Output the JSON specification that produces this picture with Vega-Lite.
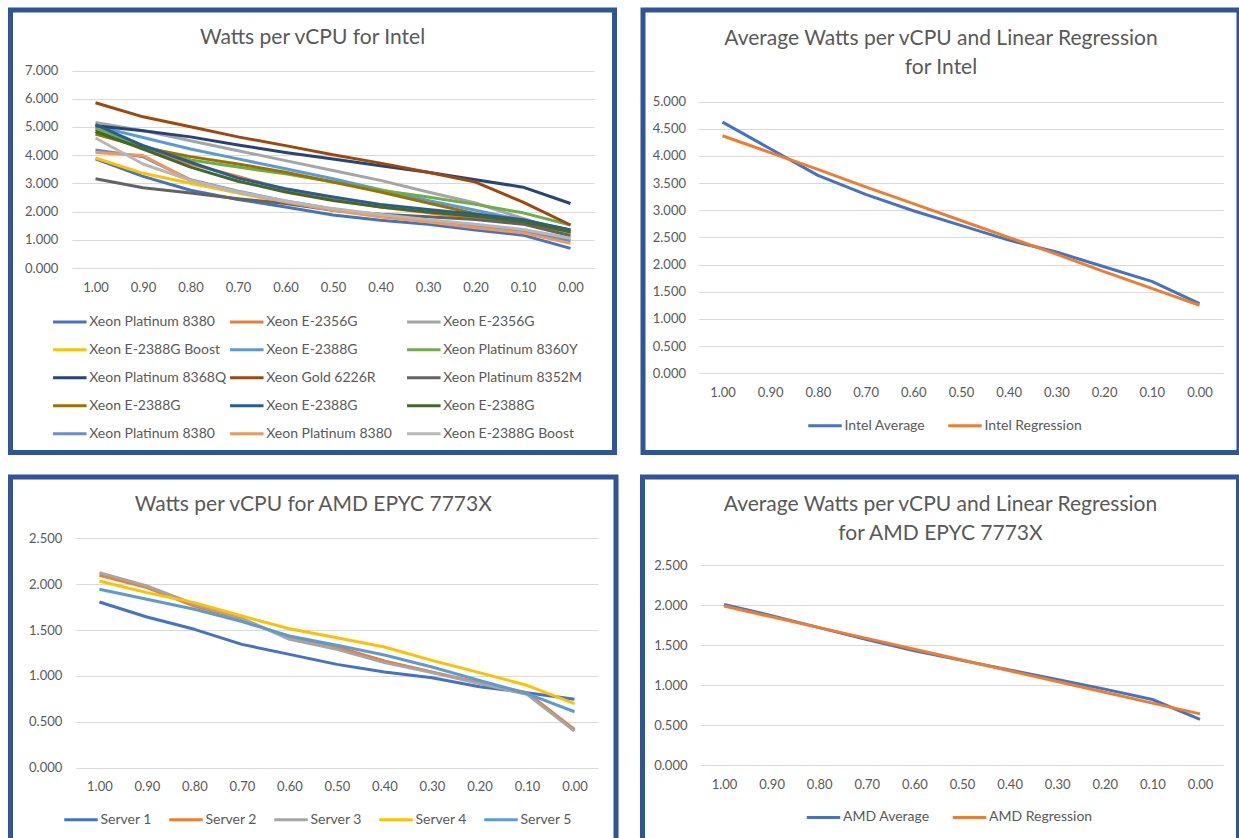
{
  "$schema": "https://vega.github.io/schema/vega-lite/v6.json",
  "background": "white",
  "padding": {"left": 7.5, "top": 7, "right": 0, "bottom": 0},
  "datasets": {
    "intel": [
      {"load": 1.0, "Xeon Platinum 8380": 3.87, "Xeon E-2356G": 4.96, "Xeon E-2356G #2": 5.16, "Xeon E-2388G Boost": 3.90, "Xeon E-2388G": 5.04, "Xeon Platinum 8360Y": 4.92, "Xeon Platinum 8368Q": 5.04, "Xeon Gold 6226R": 5.86, "Xeon Platinum 8352M": 3.17, "Xeon E-2388G #2": 4.75, "Xeon E-2388G #3": 5.08, "Xeon E-2388G #4": 4.84, "Xeon Platinum 8380 #2": 4.19, "Xeon Platinum 8380 #3": 4.10, "Xeon E-2388G Boost #2": 4.61},
      {"load": 0.9, "Xeon Platinum 8380": 3.25, "Xeon E-2356G": 4.30, "Xeon E-2356G #2": 4.87, "Xeon E-2388G Boost": 3.36, "Xeon E-2388G": 4.63, "Xeon Platinum 8360Y": 4.34, "Xeon Platinum 8368Q": 4.87, "Xeon Gold 6226R": 5.36, "Xeon Platinum 8352M": 2.85, "Xeon E-2388G #2": 4.28, "Xeon E-2388G #3": 4.34, "Xeon E-2388G #4": 4.22, "Xeon Platinum 8380 #2": 3.95, "Xeon Platinum 8380 #3": 3.99, "Xeon E-2388G Boost #2": 3.69},
      {"load": 0.8, "Xeon Platinum 8380": 2.76, "Xeon E-2356G": 3.69, "Xeon E-2356G #2": 4.51, "Xeon E-2388G Boost": 3.01, "Xeon E-2388G": 4.22, "Xeon Platinum 8360Y": 3.83, "Xeon Platinum 8368Q": 4.65, "Xeon Gold 6226R": 5.01, "Xeon Platinum 8352M": 2.66, "Xeon E-2388G #2": 3.95, "Xeon E-2388G #3": 3.75, "Xeon E-2388G #4": 3.58, "Xeon Platinum 8380 #2": 3.13, "Xeon Platinum 8380 #3": 3.11, "Xeon E-2388G Boost #2": 3.11},
      {"load": 0.7, "Xeon Platinum 8380": 2.43, "Xeon E-2356G": 3.25, "Xeon E-2356G #2": 4.16, "Xeon E-2388G Boost": 2.66, "Xeon E-2388G": 3.87, "Xeon Platinum 8360Y": 3.58, "Xeon Platinum 8368Q": 4.36, "Xeon Gold 6226R": 4.65, "Xeon Platinum 8352M": 2.46, "Xeon E-2388G #2": 3.69, "Xeon E-2388G #3": 3.19, "Xeon E-2388G #4": 3.08, "Xeon Platinum 8380 #2": 2.73, "Xeon Platinum 8380 #3": 2.70, "Xeon E-2388G Boost #2": 2.70},
      {"load": 0.6, "Xeon Platinum 8380": 2.17, "Xeon E-2356G": 2.78, "Xeon E-2356G #2": 3.81, "Xeon E-2388G Boost": 2.34, "Xeon E-2388G": 3.52, "Xeon Platinum 8360Y": 3.34, "Xeon Platinum 8368Q": 4.10, "Xeon Gold 6226R": 4.34, "Xeon Platinum 8352M": 2.29, "Xeon E-2388G #2": 3.40, "Xeon E-2388G #3": 2.81, "Xeon E-2388G #4": 2.70, "Xeon Platinum 8380 #2": 2.38, "Xeon Platinum 8380 #3": 2.34, "Xeon E-2388G Boost #2": 2.38},
      {"load": 0.5, "Xeon Platinum 8380": 1.88, "Xeon E-2356G": 2.43, "Xeon E-2356G #2": 3.46, "Xeon E-2388G Boost": 2.05, "Xeon E-2388G": 3.17, "Xeon Platinum 8360Y": 3.05, "Xeon Platinum 8368Q": 3.87, "Xeon Gold 6226R": 4.02, "Xeon Platinum 8352M": 2.05, "Xeon E-2388G #2": 3.05, "Xeon E-2388G #3": 2.52, "Xeon E-2388G #4": 2.40, "Xeon Platinum 8380 #2": 2.10, "Xeon Platinum 8380 #3": 2.05, "Xeon E-2388G Boost #2": 2.11},
      {"load": 0.4, "Xeon Platinum 8380": 1.70, "Xeon E-2356G": 2.17, "Xeon E-2356G #2": 3.11, "Xeon E-2388G Boost": 1.82, "Xeon E-2388G": 2.78, "Xeon Platinum 8360Y": 2.76, "Xeon Platinum 8368Q": 3.63, "Xeon Gold 6226R": 3.72, "Xeon Platinum 8352M": 1.91, "Xeon E-2388G #2": 2.70, "Xeon E-2388G #3": 2.26, "Xeon E-2388G #4": 2.17, "Xeon Platinum 8380 #2": 1.86, "Xeon Platinum 8380 #3": 1.82, "Xeon E-2388G Boost #2": 1.90},
      {"load": 0.3, "Xeon Platinum 8380": 1.56, "Xeon E-2356G": 1.96, "Xeon E-2356G #2": 2.70, "Xeon E-2388G Boost": 1.64, "Xeon E-2388G": 2.40, "Xeon Platinum 8360Y": 2.52, "Xeon Platinum 8368Q": 3.40, "Xeon Gold 6226R": 3.40, "Xeon Platinum 8352M": 1.82, "Xeon E-2388G #2": 2.31, "Xeon E-2388G #3": 2.08, "Xeon E-2388G #4": 1.99, "Xeon Platinum 8380 #2": 1.68, "Xeon Platinum 8380 #3": 1.64, "Xeon E-2388G Boost #2": 1.72},
      {"load": 0.2, "Xeon Platinum 8380": 1.35, "Xeon E-2356G": 1.76, "Xeon E-2356G #2": 2.31, "Xeon E-2388G Boost": 1.49, "Xeon E-2388G": 2.05, "Xeon Platinum 8360Y": 2.26, "Xeon Platinum 8368Q": 3.13, "Xeon Gold 6226R": 3.05, "Xeon Platinum 8352M": 1.72, "Xeon E-2388G #2": 1.93, "Xeon E-2388G #3": 1.91, "Xeon E-2388G #4": 1.84, "Xeon Platinum 8380 #2": 1.49, "Xeon Platinum 8380 #3": 1.43, "Xeon E-2388G Boost #2": 1.56},
      {"load": 0.1, "Xeon Platinum 8380": 1.17, "Xeon E-2356G": 1.58, "Xeon E-2356G #2": 1.76, "Xeon E-2388G Boost": 1.35, "Xeon E-2388G": 1.70, "Xeon Platinum 8360Y": 1.96, "Xeon Platinum 8368Q": 2.87, "Xeon Gold 6226R": 2.34, "Xeon Platinum 8352M": 1.56, "Xeon E-2388G #2": 1.64, "Xeon E-2388G #3": 1.72, "Xeon E-2388G #4": 1.64, "Xeon Platinum 8380 #2": 1.31, "Xeon Platinum 8380 #3": 1.25, "Xeon E-2388G Boost #2": 1.37},
      {"load": 0.0, "Xeon Platinum 8380": 0.70, "Xeon E-2356G": 1.23, "Xeon E-2356G #2": 1.23, "Xeon E-2388G Boost": 1.06, "Xeon E-2388G": 1.35, "Xeon Platinum 8360Y": 1.53, "Xeon Platinum 8368Q": 2.29, "Xeon Gold 6226R": 1.53, "Xeon Platinum 8352M": 1.15, "Xeon E-2388G #2": 1.29, "Xeon E-2388G #3": 1.35, "Xeon E-2388G #4": 1.29, "Xeon Platinum 8380 #2": 0.97, "Xeon Platinum 8380 #3": 0.88, "Xeon E-2388G Boost #2": 1.06}
    ],
    "intelAvg": [
      {"load": 1.0, "Intel Average": 4.62, "Intel Regression": 4.37},
      {"load": 0.9, "Intel Average": 4.13, "Intel Regression": 4.06},
      {"load": 0.8, "Intel Average": 3.64, "Intel Regression": 3.75},
      {"load": 0.7, "Intel Average": 3.29, "Intel Regression": 3.43},
      {"load": 0.6, "Intel Average": 2.99, "Intel Regression": 3.12},
      {"load": 0.5, "Intel Average": 2.72, "Intel Regression": 2.81},
      {"load": 0.4, "Intel Average": 2.45, "Intel Regression": 2.50},
      {"load": 0.3, "Intel Average": 2.23, "Intel Regression": 2.19},
      {"load": 0.2, "Intel Average": 1.96, "Intel Regression": 1.87},
      {"load": 0.1, "Intel Average": 1.69, "Intel Regression": 1.56},
      {"load": 0.0, "Intel Average": 1.28, "Intel Regression": 1.25}
    ],
    "amd": [
      {"load": 1.0, "Server 1": 1.806, "Server 2": 2.097, "Server 3": 2.126, "Server 4": 2.035, "Server 5": 1.944},
      {"load": 0.9, "Server 1": 1.642, "Server 2": 1.962, "Server 3": 1.980, "Server 4": 1.908, "Server 5": 1.835},
      {"load": 0.8, "Server 1": 1.508, "Server 2": 1.762, "Server 3": 1.781, "Server 4": 1.799, "Server 5": 1.726},
      {"load": 0.7, "Server 1": 1.344, "Server 2": 1.617, "Server 3": 1.628, "Server 4": 1.653, "Server 5": 1.592},
      {"load": 0.6, "Server 1": 1.235, "Server 2": 1.417, "Server 3": 1.399, "Server 4": 1.515, "Server 5": 1.435},
      {"load": 0.5, "Server 1": 1.126, "Server 2": 1.315, "Server 3": 1.290, "Server 4": 1.417, "Server 5": 1.334},
      {"load": 0.4, "Server 1": 1.043, "Server 2": 1.163, "Server 3": 1.145, "Server 4": 1.315, "Server 5": 1.228},
      {"load": 0.3, "Server 1": 0.981, "Server 2": 1.043, "Server 3": 1.036, "Server 4": 1.170, "Server 5": 1.097},
      {"load": 0.2, "Server 1": 0.883, "Server 2": 0.927, "Server 3": 0.916, "Server 4": 1.036, "Server 5": 0.952},
      {"load": 0.1, "Server 1": 0.818, "Server 2": 0.818, "Server 3": 0.799, "Server 4": 0.898, "Server 5": 0.807},
      {"load": 0.0, "Server 1": 0.745, "Server 2": 0.418, "Server 3": 0.400, "Server 4": 0.698, "Server 5": 0.610}
    ],
    "amdAvg": [
      {"load": 1.0, "AMD Average": 2.01, "AMD Regression": 1.99},
      {"load": 0.9, "AMD Average": 1.87, "AMD Regression": 1.855},
      {"load": 0.8, "AMD Average": 1.72, "AMD Regression": 1.72},
      {"load": 0.7, "AMD Average": 1.57, "AMD Regression": 1.585},
      {"load": 0.6, "AMD Average": 1.43, "AMD Regression": 1.45},
      {"load": 0.5, "AMD Average": 1.31, "AMD Regression": 1.315},
      {"load": 0.4, "AMD Average": 1.19, "AMD Regression": 1.18},
      {"load": 0.3, "AMD Average": 1.07, "AMD Regression": 1.045},
      {"load": 0.2, "AMD Average": 0.95, "AMD Regression": 0.91},
      {"load": 0.1, "AMD Average": 0.82, "AMD Regression": 0.775},
      {"load": 0.0, "AMD Average": 0.57, "AMD Regression": 0.64}
    ]
  },
  "spacing": 19,
  "resolve": {"scale": {"color": "independent"}, "legend": {"color": "independent"}},
  "vconcat": [
    {
      "spacing": 22.5,
      "resolve": {"scale": {"color": "independent"}, "legend": {"color": "independent"}},
      "hconcat": [
        {
          "width": 604,
          "height": 442.5,
          "title": {"text": "Watts per vCPU for Intel", "offset": -38},
          "data": {"name": "intel"},
          "transform": [
            {"fold": ["Xeon Platinum 8380", "Xeon E-2356G", "Xeon E-2356G #2", "Xeon E-2388G Boost", "Xeon E-2388G", "Xeon Platinum 8360Y", "Xeon Platinum 8368Q", "Xeon Gold 6226R", "Xeon Platinum 8352M", "Xeon E-2388G #2", "Xeon E-2388G #3", "Xeon E-2388G #4", "Xeon Platinum 8380 #2", "Xeon Platinum 8380 #3", "Xeon E-2388G Boost #2"], "as": ["series", "w"]}
          ],
          "mark": "line",
          "encoding": {
            "x": {"field": "load", "type": "quantitative", "title": null,
              "scale": {"domain": [1.05, -0.05], "range": [61.25, 583.75], "nice": false, "zero": false},
              "axis": {"values": [1, 0.9, 0.8, 0.7, 0.6, 0.5, 0.4, 0.3, 0.2, 0.1, 0], "format": ".2f", "offset": -171}},
            "y": {"field": "w", "type": "quantitative", "title": null,
              "scale": {"domain": [0, 7], "range": [258.2, 60.5], "nice": false},
              "axis": {"values": [0, 1, 2, 3, 4, 5, 6, 7], "format": ".3f", "offset": -47.3}},
            "color": {"field": "series", "type": "nominal",
              "scale": {
                "domain": ["Xeon Platinum 8380", "Xeon E-2356G", "Xeon E-2356G #2", "Xeon E-2388G Boost", "Xeon E-2388G", "Xeon Platinum 8360Y", "Xeon Platinum 8368Q", "Xeon Gold 6226R", "Xeon Platinum 8352M", "Xeon E-2388G #2", "Xeon E-2388G #3", "Xeon E-2388G #4", "Xeon Platinum 8380 #2", "Xeon Platinum 8380 #3", "Xeon E-2388G Boost #2"],
                "range": ["#4472C4", "#ED7D31", "#A5A5A5", "#FFC000", "#5B9BD5", "#70AD47", "#264478", "#9E480E", "#636363", "#997300", "#255E91", "#43682B", "#698ED0", "#F1975A", "#B7B7B7"]
              },
              "legend": {"orient": "none", "legendX": 40.8, "legendY": 293.2, "direction": "horizontal", "columns": 3, "gridAlign": "all", "columnPadding": -3, "rowPadding": 2, "labelExpr": "split(datum.label, ' #')[0]"}}
          }
        },
        {
          "width": 596,
          "height": 442.5,
          "title": {"text": ["Average Watts per vCPU and Linear Regression", "for Intel"], "offset": -68},
          "data": {"name": "intelAvg"},
          "transform": [{"fold": ["Intel Average", "Intel Regression"], "as": ["series", "w"]}],
          "mark": "line",
          "encoding": {
            "x": {"field": "load", "type": "quantitative", "title": null,
              "scale": {"domain": [1.05, -0.05], "range": [55.65, 580.35], "nice": false, "zero": false},
              "axis": {"values": [1, 0.9, 0.8, 0.7, 0.6, 0.5, 0.4, 0.3, 0.2, 0.1, 0], "format": ".2f", "offset": -66}},
            "y": {"field": "w", "type": "quantitative", "title": null,
              "scale": {"domain": [0, 5], "range": [363.2, 91.5], "nice": false},
              "axis": {"values": [0, 0.5, 1, 1.5, 2, 2.5, 3, 3.5, 4, 4.5, 5], "format": ".3f", "offset": -42.5}},
            "color": {"field": "series", "type": "nominal",
              "scale": {"domain": ["Intel Average", "Intel Regression"], "range": ["#4472C4", "#ED7D31"]},
              "legend": {"orient": "none", "legendX": 163.5, "legendY": 397, "direction": "horizontal", "columnPadding": 21}}
          }
        }
      ]
    },
    {
      "spacing": 21,
      "resolve": {"scale": {"color": "independent"}, "legend": {"color": "independent"}},
      "hconcat": [
        {
          "width": 605.5,
          "height": 375,
          "title": {"text": "Watts per vCPU for AMD EPYC 7773X", "offset": -38},
          "data": {"name": "amd"},
          "transform": [{"fold": ["Server 1", "Server 2", "Server 3", "Server 4", "Server 5"], "as": ["series", "w"]}],
          "mark": "line",
          "encoding": {
            "x": {"field": "load", "type": "quantitative", "title": null,
              "scale": {"domain": [1.05, -0.05], "range": [65.15, 587.75], "nice": false, "zero": false},
              "axis": {"values": [1, 0.9, 0.8, 0.7, 0.6, 0.5, 0.4, 0.3, 0.2, 0.1, 0], "format": ".2f", "offset": -72}},
            "y": {"field": "w", "type": "quantitative", "title": null,
              "scale": {"domain": [0, 2.5], "range": [290.7, 61.3], "nice": false},
              "axis": {"values": [0, 0.5, 1, 1.5, 2, 2.5], "format": ".3f", "offset": -51.3}},
            "color": {"field": "series", "type": "nominal",
              "scale": {"domain": ["Server 1", "Server 2", "Server 3", "Server 4", "Server 5"], "range": ["#4472C4", "#ED7D31", "#A5A5A5", "#FFC000", "#5B9BD5"]},
              "legend": {"orient": "none", "legendX": 52, "legendY": 324, "direction": "horizontal", "columnPadding": 15}}
          }
        },
        {
          "width": 596,
          "height": 375,
          "title": {"text": ["Average Watts per vCPU and Linear Regression", "for AMD EPYC 7773X"], "offset": -67},
          "data": {"name": "amdAvg"},
          "transform": [{"fold": ["AMD Average", "AMD Regression"], "as": ["series", "w"]}],
          "mark": "line",
          "encoding": {
            "x": {"field": "load", "type": "quantitative", "title": null,
              "scale": {"domain": [1.05, -0.05], "range": [57.7, 581.3], "nice": false, "zero": false},
              "axis": {"values": [1, 0.9, 0.8, 0.7, 0.6, 0.5, 0.4, 0.3, 0.2, 0.1, 0], "format": ".2f", "offset": -74}},
            "y": {"field": "w", "type": "quantitative", "title": null,
              "scale": {"domain": [0, 2.5], "range": [288, 88.3], "nice": false},
              "axis": {"values": [0, 0.5, 1, 1.5, 2, 2.5], "format": ".3f", "offset": -44.5}},
            "color": {"field": "series", "type": "nominal",
              "scale": {"domain": ["AMD Average", "AMD Regression"], "range": ["#4472C4", "#ED7D31"]},
              "legend": {"orient": "none", "legendX": 162.5, "legendY": 321.7, "direction": "horizontal", "columnPadding": 21}}
          }
        }
      ]
    }
  ],
  "config": {
    "font": "Lato",
    "view": {"stroke": "#2F5597", "strokeWidth": 5, "fill": "white"},
    "line": {"strokeWidth": 3, "strokeJoin": "round"},
    "axis": {"labelColor": "#595959", "labelFont": "Lato", "labelFontSize": 13, "ticks": false, "tickSize": 0, "domain": false, "labelPadding": 0, "labelFlush": false, "labelOverlap": false, "gridColor": "#D9D9D9", "gridWidth": 1},
    "axisX": {"grid": false},
    "axisY": {"grid": true},
    "title": {"color": "#595959", "font": "Lato", "fontSize": 21, "fontWeight": "normal", "anchor": "middle", "lineHeight": 29},
    "legend": {"title": null, "symbolType": "stroke", "symbolSize": 1122, "symbolStrokeWidth": 3.5, "labelFont": "Lato", "labelFontSize": 14, "labelColor": "#595959", "labelOffset": 1, "labelLimit": 300, "padding": 0}
  }
}
